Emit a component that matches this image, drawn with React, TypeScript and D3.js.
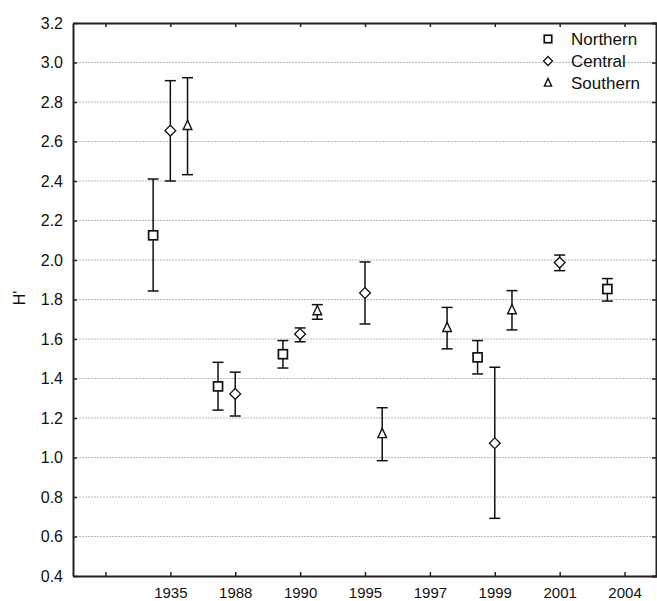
import React, { useRef, useEffect } from 'react';
import * as d3 from 'd3';

// x slots: slot 0 is an empty tick, the years follow
const yearLabels = ['', '1935', '1988', '1990', '1995', '1997', '1999', '2001', '2004'];
const yTicks = [0.4, 0.6, 0.8, 1.0, 1.2, 1.4, 1.6, 1.8, 2.0, 2.2, 2.4, 2.6, 2.8, 3.0, 3.2];

// [year, mean, lower, upper]
const northern = [
  ['1935', 2.125, 1.843, 2.41],
  ['1988', 1.36, 1.24, 1.482],
  ['1990', 1.523, 1.453, 1.592],
  ['1999', 1.507, 1.423, 1.592],
  ['2004', 1.853, 1.792, 1.906],
];
const central = [
  ['1935', 2.655, 2.40, 2.908],
  ['1988', 1.322, 1.21, 1.432],
  ['1990', 1.625, 1.586, 1.656],
  ['1995', 1.833, 1.676, 1.99],
  ['1999', 1.072, 0.692, 1.457],
  ['2001', 1.987, 1.946, 2.025],
];
const southern = [
  ['1935', 2.68, 2.432, 2.923],
  ['1990', 1.742, 1.70, 1.774],
  ['1995', 1.12, 0.984, 1.252],
  ['1997', 1.657, 1.55, 1.76],
  ['1999', 1.747, 1.646, 1.845],
];

const seriesNames = ['Northern', 'Central', 'Southern'];

const W = 657;
const H = 601;
const margin = { top: 23, right: 0, bottom: 25, left: 73 };
const font = '"Liberation Sans", Arial, sans-serif';

const drawMarker = (g, type, x, y, s) => {
  if (type === 'Northern') {
    g.append('rect')
      .attr('x', x - s / 2).attr('y', y - s / 2)
      .attr('width', s).attr('height', s)
      .attr('fill', '#fff').attr('stroke', '#111').attr('stroke-width', 1.7);
  } else if (type === 'Central') {
    const r = s * 0.6;
    g.append('path')
      .attr('d', `M${x},${y - r}L${x + r},${y}L${x},${y + r}L${x - r},${y}Z`)
      .attr('fill', '#fff').attr('stroke', '#111').attr('stroke-width', 1.3);
  } else {
    const r = s * 0.6;
    g.append('path')
      .attr('d', `M${x},${y - r}L${x + r * 0.8},${y + r * 0.7}L${x - r * 0.8},${y + r * 0.7}Z`)
      .attr('fill', '#fff').attr('stroke', '#111').attr('stroke-width', 1.4);
  }
};

const App = () => {
  const svgRef = useRef(null);

  useEffect(() => {
    const svg = d3.select(svgRef.current);
    svg.selectAll('*').remove();

    const x = d3.scaleLinear()
      .domain([-0.5, yearLabels.length - 0.5])
      .range([margin.left, W - margin.right]);
    const y = d3.scaleLinear()
      .domain([0.4, 3.2])
      .range([H - margin.bottom, margin.top]);

    // gridlines
    svg.append('g')
      .selectAll('line')
      .data(yTicks.slice(1, -1))
      .enter()
      .append('line')
      .attr('x1', margin.left).attr('x2', W - margin.right)
      .attr('y1', d => y(d)).attr('y2', d => y(d))
      .attr('stroke', '#bbb')
      .attr('stroke-width', 1)
      .attr('stroke-dasharray', '2,1');

    const left = svg.append('g')
      .attr('transform', `translate(${margin.left},0)`)
      .call(d3.axisLeft(y).tickValues(yTicks).tickFormat(d3.format('.1f')).tickSizeInner(-4).tickSizeOuter(0).tickPadding(10));
    const right = svg.append('g')
      .attr('transform', `translate(${W - margin.right - 1},0)`)
      .call(d3.axisLeft(y).tickValues(yTicks).tickFormat(() => '').tickSize(4));
    const bottom = svg.append('g')
      .attr('transform', `translate(0,${H - margin.bottom})`)
      .call(d3.axisBottom(x).tickValues(d3.range(yearLabels.length)).tickFormat(i => yearLabels[i]).tickSizeInner(-4).tickSizeOuter(0).tickPadding(11));
    const top = svg.append('g')
      .attr('transform', `translate(0,${margin.top})`)
      .call(d3.axisTop(x).tickValues(d3.range(yearLabels.length)).tickFormat(() => '').tickSizeInner(-4).tickSizeOuter(0));

    [left, right, bottom, top].forEach(a => {
      a.selectAll('.domain').attr('stroke', '#222').attr('stroke-width', 2);
      a.selectAll('.tick line').attr('stroke', '#222').attr('stroke-width', 1.5);
      a.selectAll('text').attr('font-family', font).attr('font-size', 16).attr('fill', '#111');
    });
    left.selectAll('text').attr('x', -10);
    bottom.selectAll('text').attr('font-size', 15);

    svg.append('text')
      .attr('transform', `translate(25,298) rotate(-90)`)
      .attr('text-anchor', 'middle')
      .attr('font-family', font)
      .attr('font-size', 16)
      .attr('fill', '#111')
      .text("H'");

    const offsets = { Northern: -0.265, Central: 0, Southern: 0.265 };
    const allSeries = [northern, central, southern];
    const cap = 5.5;

    allSeries.forEach((rows, si) => {
      const name = seriesNames[si];
      const g = svg.append('g');
      rows.forEach(([yr, mean, lo, hi]) => {
        const cx = x(yearLabels.indexOf(yr) + offsets[name]);
        g.append('line')
          .attr('x1', cx).attr('x2', cx)
          .attr('y1', y(lo)).attr('y2', y(hi))
          .attr('stroke', '#111').attr('stroke-width', 1.5);
        [lo, hi].forEach(v => {
          g.append('line')
            .attr('x1', cx - cap).attr('x2', cx + cap)
            .attr('y1', y(v)).attr('y2', y(v))
            .attr('stroke', '#111').attr('stroke-width', 1.5);
        });
        drawMarker(g, name, cx, y(mean), 9);
      });
    });

    // legend
    const legend = svg.append('g').attr('transform', 'translate(548,39)');
    seriesNames.forEach((name, i) => {
      drawMarker(legend, name, 0, i * 22, 7.5);
      legend.append('text')
        .attr('x', 23).attr('y', i * 22 + 6)
        .attr('font-family', font)
        .attr('font-size', 17)
        .attr('fill', '#111')
        .text(name);
    });
  }, []);

  return (
    <svg ref={svgRef} width={W} height={H}
      style={{ position: 'absolute', left: 0, top: 0, background: '#fff' }} />
  );
};

export default App;
